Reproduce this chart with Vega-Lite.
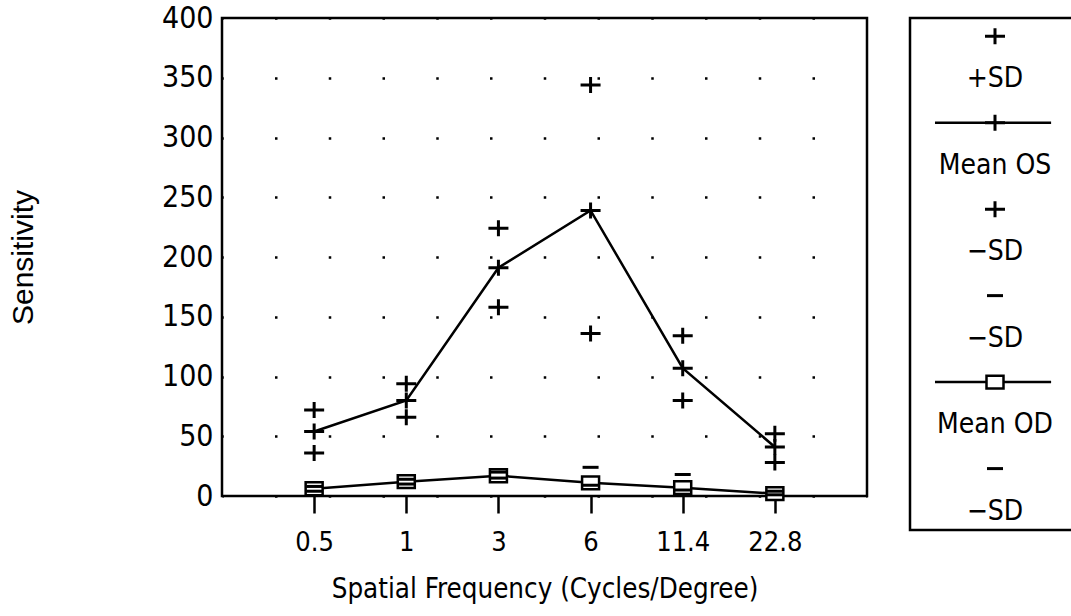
{
  "$schema": "https://vega.github.io/schema/vega-lite/v6.json",
  "padding": {"left": 7, "top": 1, "right": 0, "bottom": 0},
  "background": "white",
  "config": {
    "view": {"stroke": "black", "strokeWidth": 2.5},
    "font": "DejaVu Sans Condensed, DejaVu Sans, sans-serif"
  },
  "spacing": 39,
  "datasets": {
    "sens": [
      {"i": 0, "freq": "0.5", "os_plus": 72, "os_mean": 54, "os_minus": 36, "od_plus": 8, "od_mean": 6, "od_minus": 4},
      {"i": 1, "freq": "1", "os_plus": 94, "os_mean": 80, "os_minus": 66, "od_plus": 14, "od_mean": 12, "od_minus": 10},
      {"i": 2, "freq": "3", "os_plus": 224, "os_mean": 191, "os_minus": 158, "od_plus": 20, "od_mean": 17, "od_minus": 15},
      {"i": 3, "freq": "6", "os_plus": 344, "os_mean": 239, "os_minus": 136, "od_plus": 24, "od_mean": 11, "od_minus": 9},
      {"i": 4, "freq": "11.4", "os_plus": 134, "os_mean": 107, "os_minus": 80, "od_plus": 18, "od_mean": 7, "od_minus": 5},
      {"i": 5, "freq": "22.8", "os_plus": 52, "os_mean": 41, "os_minus": 28, "od_plus": 4, "od_mean": 2, "od_minus": 1}
    ],
    "legend": [
      {"row": 0, "symbol": "plus"},
      {"row": 1, "label": "+SD"},
      {"row": 2, "symbol": "plus", "kind": "line"},
      {"row": 3, "label": "Mean OS"},
      {"row": 4, "symbol": "plus"},
      {"row": 5, "label": "−SD"},
      {"row": 6, "symbol": "dash"},
      {"row": 7, "label": "−SD"},
      {"row": 8, "symbol": "square", "kind": "line"},
      {"row": 9, "label": "Mean OD"},
      {"row": 10, "symbol": "dash"},
      {"row": 11, "label": "−SD"}
    ]
  },
  "hconcat": [
    {
      "width": 645,
      "height": 478,
      "data": {"name": "sens"},
      "encoding": {
        "x": {
          "field": "i",
          "type": "quantitative",
          "scale": {"domain": [-1, 6], "nice": false, "zero": false},
          "axis": {
            "values": [0, 1, 2, 3, 4, 5],
            "labelExpr": "['0.5','1','3','6','11.4','22.8'][datum.value]",
            "grid": false,
            "domain": false,
            "ticks": true,
            "tickSize": 17,
            "tickWidth": 2.5,
            "tickColor": "black",
            "labelFontSize": 27,
            "labelColor": "black",
            "labelPadding": 16,
            "title": "Spatial Frequency (Cycles/Degree)",
            "titleFontSize": 27.5,
            "titleFontWeight": "normal",
            "titleColor": "black",
            "titlePadding": 20
          }
        }
      },
      "layer": [
        {
          "mark": {"type": "line", "color": "black", "strokeWidth": 2.5},
          "encoding": {
            "y": {
              "field": "os_mean",
              "type": "quantitative",
              "title": "Sensitivity",
              "scale": {"domain": [0, 400], "nice": false},
              "axis": {
                "title": "Sensitivity",
                "values": [0, 50, 100, 150, 200, 250, 300, 350, 400],
                "domain": false,
                "ticks": false,
                "tickSize": 0,
                "labelFontSize": 30,
                "labelColor": "black",
                "labelPadding": 9,
                "grid": true,
                "gridColor": "black",
                "gridWidth": 2.5,
                "gridDash": [2.5, 51.25],
                "gridDashOffset": 1.25,
                "titleFont": "Liberation Sans, Arial, sans-serif",
                "titleFontSize": 30,
                "titleFontWeight": "normal",
                "titleColor": "black",
                "titlePadding": 123
              }
            }
          }
        },
        {
          "mark": {"type": "line", "color": "black", "strokeWidth": 2.5},
          "encoding": {"y": {"field": "od_mean", "type": "quantitative", "title": "Sensitivity"}}
        },
        {
          "transform": [{"fold": ["os_plus", "os_mean", "os_minus"], "as": ["stat", "val"]}],
          "mark": {"type": "point", "shape": "M-1,0H1M0,-0.8V0.8", "size": 400, "filled": false, "stroke": "black", "strokeWidth": 3, "opacity": 1},
          "encoding": {"y": {"field": "val", "type": "quantitative", "title": "Sensitivity"}}
        },
        {
          "mark": {"type": "point", "shape": "M-1,-0.76H1V0.76H-1Z", "size": 289, "filled": true, "fill": "white", "stroke": "black", "strokeWidth": 2.5, "opacity": 1},
          "encoding": {"y": {"field": "od_mean", "type": "quantitative", "title": "Sensitivity"}}
        },
        {
          "transform": [{"fold": ["od_plus", "od_minus"], "as": ["stat", "val"]}],
          "mark": {"type": "point", "shape": "M-1,0H1", "size": 256, "filled": false, "stroke": "black", "strokeWidth": 3, "opacity": 1},
          "encoding": {"y": {"field": "val", "type": "quantitative", "title": "Sensitivity"}}
        }
      ]
    },
    {
      "width": 170,
      "height": 512,
      "data": {"name": "legend"},
      "encoding": {
        "y": {"field": "row", "type": "ordinal", "scale": {"type": "point", "padding": 0.42}, "axis": null}
      },
      "layer": [
        {
          "transform": [{"filter": "datum.kind == 'line'"}],
          "mark": {"type": "rule", "color": "black", "strokeWidth": 2.5},
          "encoding": {
            "x": {"datum": 0.147, "type": "quantitative", "scale": {"domain": [0, 1]}, "axis": null},
            "x2": {"datum": 0.83}
          }
        },
        {
          "transform": [{"filter": "datum.symbol == 'plus'"}],
          "mark": {"type": "point", "shape": "M-1,0H1M0,-0.8V0.8", "size": 400, "filled": false, "stroke": "black", "strokeWidth": 3, "opacity": 1}
        },
        {
          "transform": [{"filter": "datum.symbol == 'square'"}],
          "mark": {"type": "point", "shape": "M-1,-0.76H1V0.76H-1Z", "size": 289, "filled": true, "fill": "white", "stroke": "black", "strokeWidth": 2.5, "opacity": 1}
        },
        {
          "transform": [{"filter": "datum.symbol == 'dash'"}],
          "mark": {"type": "point", "shape": "M-1,0H1", "size": 256, "filled": false, "stroke": "black", "strokeWidth": 3, "opacity": 1}
        },
        {
          "transform": [{"filter": "datum.label"}],
          "mark": {"type": "text", "fontSize": 28, "baseline": "middle", "align": "center", "color": "black"},
          "encoding": {"text": {"field": "label"}}
        }
      ]
    }
  ]
}
